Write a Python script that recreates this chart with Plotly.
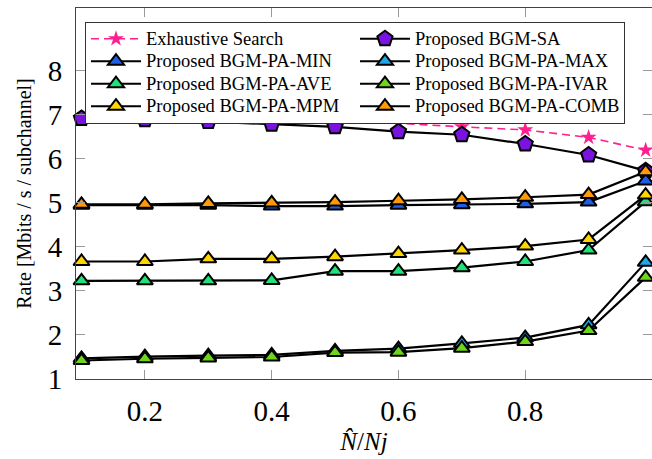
import plotly.graph_objects as go

x = [0.1, 0.2, 0.3, 0.4, 0.5, 0.6, 0.7, 0.8, 0.9, 0.99]

exhaustive = [6.92, 6.90, 6.88, 6.86, 6.83, 6.81, 6.73, 6.66, 6.49, 6.20]
bgm_sa = [6.92, 6.89, 6.85, 6.79, 6.73, 6.62, 6.55, 6.34, 6.09, 5.73]
pa_min = [4.95, 4.95, 4.95, 4.93, 4.93, 4.95, 4.96, 4.98, 5.02, 5.50]
pa_max = [1.47, 1.51, 1.53, 1.55, 1.64, 1.69, 1.81, 1.94, 2.23, 3.65]
pa_ave = [3.23, 3.23, 3.23, 3.24, 3.45, 3.45, 3.53, 3.67, 3.93, 5.03]
pa_ivar = [1.42, 1.46, 1.48, 1.50, 1.60, 1.61, 1.70, 1.85, 2.10, 3.31]
pa_mpm = [3.67, 3.67, 3.73, 3.73, 3.78, 3.85, 3.93, 4.02, 4.17, 5.18]
pa_comb = [4.97, 4.97, 4.99, 5.00, 5.02, 5.05, 5.08, 5.13, 5.19, 5.71]

names = ["Exhaustive Search", "Proposed BGM-SA", "Proposed BGM-PA-MIN",
         "Proposed BGM-PA-MAX", "Proposed BGM-PA-AVE", "Proposed BGM-PA-IVAR",
         "Proposed BGM-PA-MPM", "Proposed BGM-PA-COMB"]

x_ticks = [0.2, 0.4, 0.6, 0.8, 1.0]
x_ticklabels = ["0.2", "0.4", "0.6", "0.8", "1"]
y_ticks = [1, 2, 3, 4, 5, 6, 7, 8]


def leg(name):
    return '<span style="font-size:18.5px">' + name + '</span>'


fig = go.Figure()

fig.add_trace(go.Scatter(
    x=x, y=exhaustive, name=leg(names[0]), mode="lines+markers",
    line=dict(color="#ff1f8e", width=1.6, dash="8px,5px"),
    marker=dict(symbol="star", size=12, color="#ff1f8e", line=dict(width=0)),
    cliponaxis=False))

fig.add_trace(go.Scatter(
    x=x, y=bgm_sa, name=leg(names[1]), mode="lines+markers",
    line=dict(color="black", width=2.2),
    marker=dict(symbol="pentagon", size=16, color="#7a12e0",
                line=dict(color="black", width=2)),
    cliponaxis=False))

tri_series = [
    (pa_min, names[2], "#1f5fe8"),
    (pa_max, names[3], "#1ea8e8"),
    (pa_ave, names[4], "#1ee37a"),
    (pa_ivar, names[5], "#6cd61a"),
    (pa_mpm, names[6], "#ffd500"),
    (pa_comb, names[7], "#ff9a0a"),
]
for ys, nm, col in tri_series:
    fig.add_trace(go.Scatter(
        x=x, y=ys, name=leg(nm), mode="lines+markers",
        line=dict(color="black", width=2.2),
        marker=dict(symbol="triangle-up", size=14, color=col,
                    line=dict(color="black", width=2)),
        cliponaxis=False))

serif = "Liberation Serif"

fig.update_layout(
    width=652, height=459,
    margin=dict(l=76, r=0, t=8, b=80),
    plot_bgcolor="white", paper_bgcolor="white",
    font=dict(family=serif, color="black"),
    showlegend=True,
    legend=dict(
        orientation="h", x=0.0156, y=0.9636, xanchor="left", yanchor="top",
        bgcolor="white", bordercolor="#333", borderwidth=1,
        font=dict(family=serif, size=15, color="black"),
        itemwidth=50, entrywidth=204, tracegroupgap=0,
        traceorder="normal",
    ),
    xaxis=dict(
        range=[0.0913, 1.0], tickvals=x_ticks, ticktext=x_ticklabels,
        ticks="inside", ticklen=9, tickcolor="#999", tickwidth=1,
        showline=True, linecolor="#444", linewidth=1, mirror="ticks",
        showgrid=False, zeroline=False,
        tickfont=dict(family=serif, size=29, color="black"),
        ticklabelstandoff=6,
        title=dict(text="<i>N̂</i>/<i>Nj</i>", font=dict(family=serif, size=25),
                   standoff=6),
    ),
    yaxis=dict(
        range=[1, 9.43], tickvals=y_ticks,
        ticks="inside", ticklen=9, tickcolor="#999", tickwidth=1,
        showline=True, linecolor="#444", linewidth=1, mirror="ticks",
        showgrid=False, zeroline=False,
        tickfont=dict(family=serif, size=29, color="black"),
        ticklabelstandoff=7,
        title=dict(text="Rate [Mbits / s / subchannel]",
                   font=dict(family=serif, size=20), standoff=10),
    ),
)

fig.write_html("out.html")
